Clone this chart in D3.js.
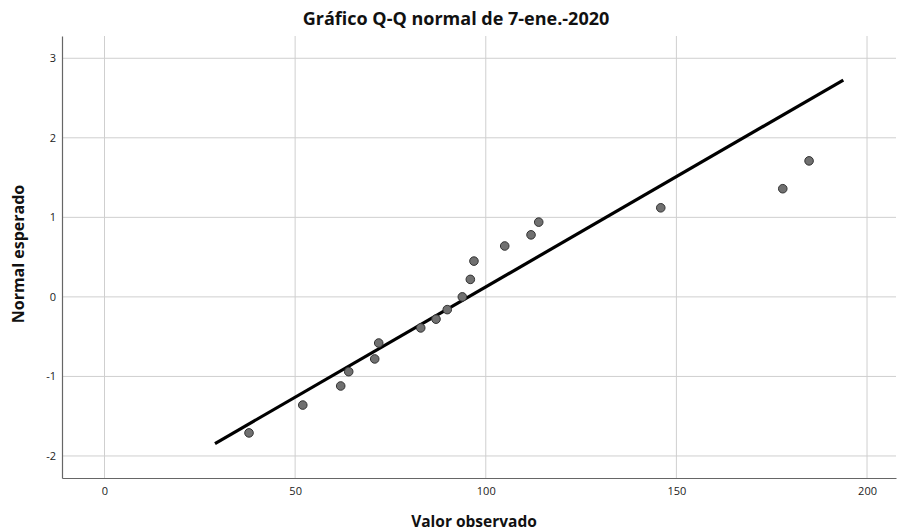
<!DOCTYPE html>
<html><head><meta charset="utf-8">
<script src="https://cdn.jsdelivr.net/npm/d3@7"></script>
<style>body{margin:0;background:#fff;} svg{display:block;}</style>
</head><body>
<script>
const observed = [37.9, 52.0, 61.95, 64.05, 70.87, 71.92, 82.94, 86.95, 89.9, 93.85, 95.95, 96.9, 104.97, 111.87, 113.89, 145.9, 177.9, 184.8];
const expectedNormal = [-1.71, -1.36, -1.12, -0.94, -0.78, -0.58, -0.39, -0.28, -0.16, 0.0, 0.22, 0.45, 0.64, 0.78, 0.94, 1.12, 1.36, 1.71];
const lineX = [28.98, 193.78];
const lineY = [-1.844, 2.726];
const xTicks = [0, 50, 100, 150, 200];
const yTicks = [-2, -1, 0, 1, 2, 3];
const title = "Gráfico Q-Q normal de 7-ene.-2020";
const xTitle = "Valor observado";
const yTitle = "Normal esperado";

const W = 897, H = 532;
const m = {left: 62, right: 1, top: 36, bottom: 54};
const svg = d3.select("body").append("svg").attr("width", W).attr("height", H);
const x = d3.scaleLinear().domain([-11.15, 207.6]).range([m.left, W - m.right]);
const y = d3.scaleLinear().domain([-2.277, 3.28]).range([H - m.bottom, m.top]);
const font = "'Open Sans', 'DejaVu Sans', sans-serif";

// grid
svg.append("g").selectAll("line").data(xTicks).join("line")
  .attr("x1", d => x(d)).attr("x2", d => x(d)).attr("y1", y.range()[0]).attr("y2", y.range()[1])
  .attr("stroke", "#cfcfcf").attr("stroke-width", 1);
svg.append("g").selectAll("line").data(yTicks).join("line")
  .attr("y1", d => y(d)).attr("y2", d => y(d)).attr("x1", x.range()[0]).attr("x2", x.range()[1])
  .attr("stroke", "#cfcfcf").attr("stroke-width", 1);

// axes
const xAxis = svg.append("g").attr("transform", `translate(0,${y.range()[0]})`)
  .call(d3.axisBottom(x).tickValues(xTicks).tickSize(0).tickPadding(9).tickSizeOuter(0));
const yAxis = svg.append("g").attr("transform", `translate(${x.range()[0]},0)`)
  .call(d3.axisLeft(y).tickValues(yTicks).tickSize(0).tickPadding(6).tickSizeOuter(0)
    .tickFormat(d => d < 0 ? "-" + Math.abs(d) : d));
[xAxis, yAxis].forEach(a => {
  a.select(".domain").attr("stroke", "#666").attr("stroke-width", 1.2);
  a.selectAll("text").attr("font-family", font).attr("font-size", 11).attr("fill", "#222");
});

// reference line
svg.append("line")
  .attr("x1", x(lineX[0])).attr("y1", y(lineY[0]))
  .attr("x2", x(lineX[1])).attr("y2", y(lineY[1]))
  .attr("stroke", "#000").attr("stroke-width", 3.2);

// points
svg.append("g").selectAll("circle").data(observed).join("circle")
  .attr("cx", d => x(d)).attr("cy", (d, i) => y(expectedNormal[i]))
  .attr("r", 4.3).attr("fill", "#707070").attr("stroke", "#333").attr("stroke-width", 1);

// titles
svg.append("text").attr("x", 456).attr("y", 25).attr("text-anchor", "middle")
  .attr("font-family", font).attr("font-weight", "bold").attr("font-size", 18).attr("fill", "#111").text(title);
svg.append("text").attr("x", 474).attr("y", 527).attr("text-anchor", "middle")
  .attr("font-family", font).attr("font-weight", "bold").attr("font-size", 15.5).attr("fill", "#111").text(xTitle);
svg.append("text").attr("transform", "translate(24,254) rotate(-90)").attr("text-anchor", "middle")
  .attr("font-family", font).attr("font-weight", "bold").attr("font-size", 16).attr("fill", "#111").text(yTitle);
</script>
</body></html>
